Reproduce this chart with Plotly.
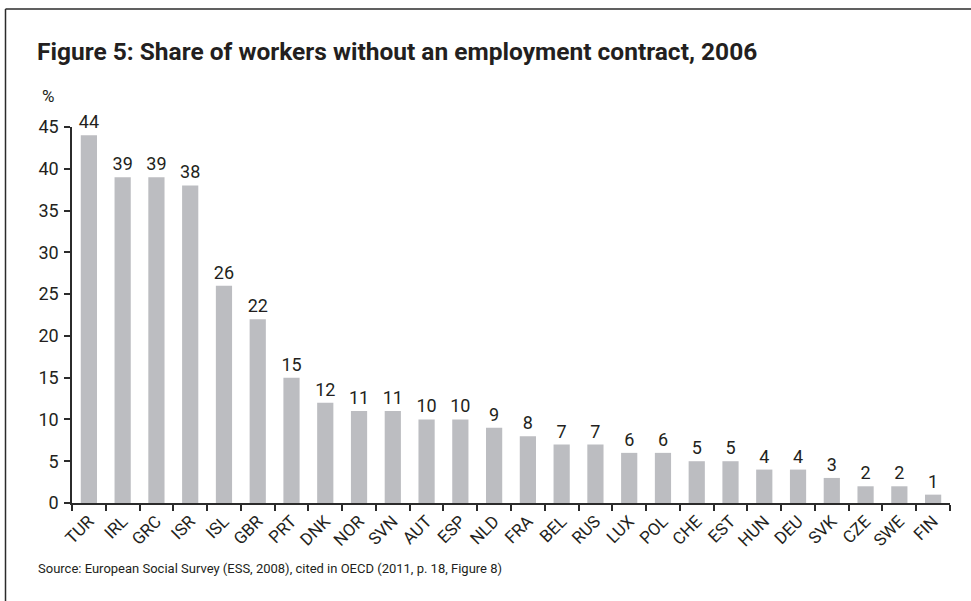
import plotly.graph_objects as go

# Share of workers without an employment contract, 2006 (%)
countries = ["TUR", "IRL", "GRC", "ISR", "ISL", "GBR", "PRT", "DNK", "NOR", "SVN",
             "AUT", "ESP", "NLD", "FRA", "BEL", "RUS", "LUX", "POL", "CHE", "EST",
             "HUN", "DEU", "SVK", "CZE", "SWE", "FIN"]
shares = [44, 39, 39, 38, 26, 22, 15, 12, 11, 11,
          10, 10, 9, 8, 7, 7, 6, 6, 5, 5,
          4, 4, 3, 2, 2, 1]
y_ticks = [0, 5, 10, 15, 20, 25, 30, 35, 40, 45]

FONT = "Roboto, Liberation Sans, sans-serif"
INK = "#231f20"
AXIS = "#2b2b2b"

W, H = 971, 601
L, R, T, B = 72, 21, 127, 98
pw, ph = W - L - R, H - T - B


def px_x(x):
    return (x - L) / pw


def px_y(y):
    return (H - B - y) / ph


fig = go.Figure(go.Bar(
    x=countries,
    y=shares,
    marker=dict(color="#bcbdc1", line=dict(width=0)),
    text=[str(v) for v in shares],
    textposition="outside",
    constraintext="none",
    textfont=dict(family=FONT, size=18, color=INK),
    cliponaxis=False,
))

fig.update_layout(
    width=W, height=H,
    margin=dict(l=L, r=R, t=T, b=B),
    paper_bgcolor="white", plot_bgcolor="white",
    bargap=0.52,
    showlegend=False,
    font=dict(family=FONT, color=INK),
    xaxis=dict(
        type="category",
        tickson="boundaries",
        ticks="outside", ticklen=6, tickwidth=1.5, tickcolor=AXIS,
        showline=True, linecolor=AXIS, linewidth=1.5,
        showgrid=False, zeroline=False,
        tickangle=-45,
        tickfont=dict(family=FONT, size=17, color=INK),
    ),
    yaxis=dict(
        range=[0, 45],
        tickvals=y_ticks,
        ticks="outside", ticklen=6, tickwidth=1.5, tickcolor=AXIS,
        showline=True, linecolor=AXIS, linewidth=1.5,
        showgrid=False, zeroline=False,
        tickfont=dict(family=FONT, size=18, color=INK),
        ticklabelstandoff=2,
    ),
)

# Frame around the figure (left and top edges visible)
fig.add_shape(type="line", xref="paper", yref="paper",
              x0=px_x(5.5), x1=px_x(5.5), y0=px_y(9), y1=px_y(610),
              line=dict(color=AXIS, width=1.5))
fig.add_shape(type="line", xref="paper", yref="paper",
              x0=px_x(5.5), x1=px_x(980), y0=px_y(9), y1=px_y(9),
              line=dict(color=AXIS, width=1.5))

fig.add_annotation(
    text="<b>Figure 5: Share of workers without an employment contract, 2006</b>",
    xref="paper", yref="paper", x=px_x(35), y=px_y(52),
    xanchor="left", yanchor="middle", showarrow=False,
    font=dict(family=FONT, size=24.5, color=INK),
)
fig.add_annotation(
    text="%", xref="paper", yref="paper", x=px_x(48), y=px_y(96),
    xanchor="center", yanchor="middle", showarrow=False,
    font=dict(family=FONT, size=17, color=INK),
)
fig.add_annotation(
    text="Source: European Social Survey (ESS, 2008), cited in OECD (2011, p. 18, Figure 8)",
    xref="paper", yref="paper", x=px_x(36), y=px_y(568),
    xanchor="left", yanchor="middle", showarrow=False,
    font=dict(family=FONT, size=13, color=INK),
)

fig.write_html("out.html")
